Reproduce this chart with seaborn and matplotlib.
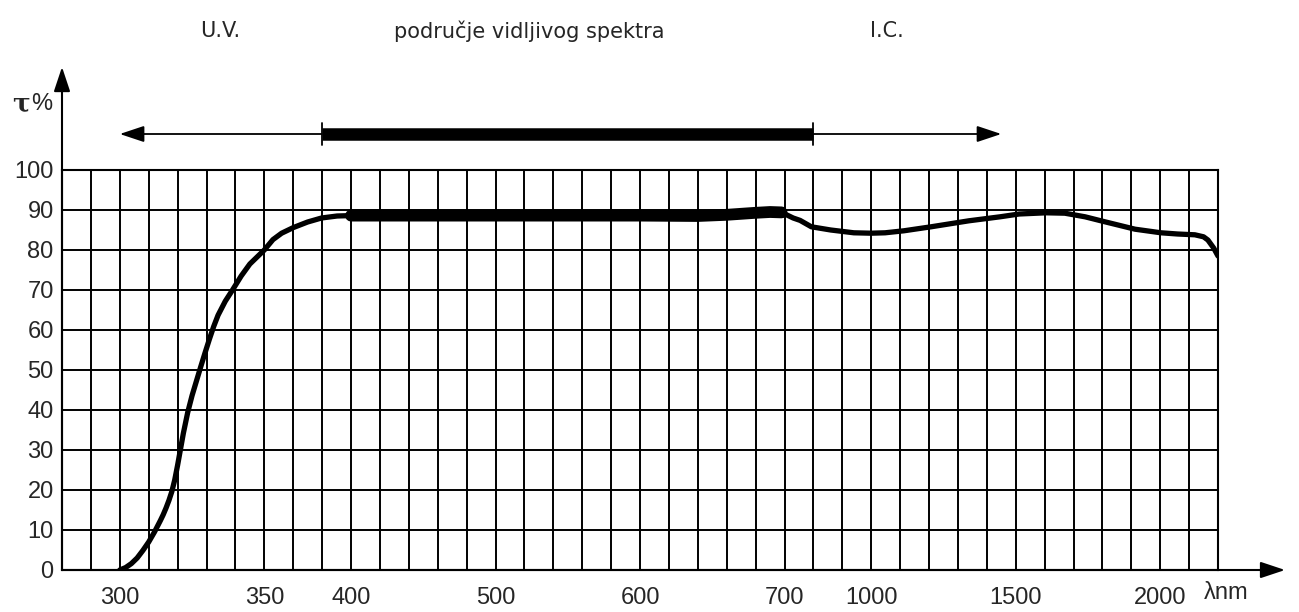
import numpy as np
import matplotlib
matplotlib.use("Agg")
import matplotlib.pyplot as plt
import seaborn as sns

# transmission curve (nm, %)
wavelength = [300, 302, 304, 306, 308, 310, 312, 314, 315, 316, 317, 318, 319,
              320, 321, 322, 323.5, 325, 326.5, 328, 329.5, 331, 332.5, 334,
              336.5, 339, 342, 345, 350, 355, 360, 366.7, 375, 383, 392, 400,
              450, 500, 550, 600, 640, 660, 680, 690, 698, 710, 730, 754, 793,
              860, 940, 1000, 1048, 1113, 1207, 1338, 1446, 1512, 1605, 1670,
              1740, 1806, 1913, 2003, 2060, 2120, 2150, 2165, 2185, 2200]
transmission = [0, 0.6, 1.6, 3.0, 4.9, 7.0, 9.5, 12.3, 13.8, 15.5, 17.4, 19.6, 22.5,
                26.2, 30.2, 34.2, 39.4, 43.6, 47.2, 50.8, 54.3, 57.7, 60.9, 63.7,
                67.2, 70, 73.5, 76.5, 80, 82.6, 84.2, 85.6, 87, 88, 88.5, 88.6,
                88.6, 88.6, 88.6, 88.6, 88.5, 88.8, 89.3, 89.5, 89.4, 88.7, 88.0, 87.4, 85.8,
                85.0, 84.3, 84.2, 84.3, 84.8, 85.8, 87.3, 88.3, 89.0, 89.3, 89.2,
                88.3, 87.1, 85.2, 84.3, 84.0, 83.8, 83.3, 82.5, 80.5, 78.5]
thick_from, thick_to = 395, 705

x_ticks = [300, 350, 400, 500, 600, 700, 1000, 1500, 2000]
y_ticks = list(range(0, 101, 10))

# the wavelength axis is piecewise linear: nm -> grid column
scale_nm = [280, 300, 350, 400, 500, 600, 700, 1000, 1500, 2000, 2200]
scale_col = [0, 2, 7, 10, 15, 20, 25, 28, 33, 38, 40]

uv_end, vis_start, vis_end, ir_end = 300, 383, 800, 1450
band_labels = ["U.V.", "područje vidljivog spektra", "I.C."]


def fwd(x):
    return np.interp(x, scale_nm, scale_col)


def inv(c):
    return np.interp(c, scale_col, scale_nm)


sns.set_style("white")
plt.rcParams['font.family'] = ['Liberation Sans', 'DejaVu Sans']

W, H = 1299, 612
fig = plt.figure(figsize=(W / 100, H / 100), dpi=100)
ax = fig.add_axes([62 / W, 1 - 570 / H, 1156 / W, 400 / H])
ax.set_xscale('function', functions=(fwd, inv))
ax.set_xlim(280, 2200)
ax.set_ylim(0, 100)

wl = np.array(wavelength)
tr = np.array(transmission)
sns.lineplot(x=wl, y=tr, color='black', lw=3.8, ax=ax, zorder=3,
             solid_capstyle='round', solid_joinstyle='round')
m = (wl >= thick_from) & (wl <= thick_to)
sns.lineplot(x=wl[m], y=tr[m], color='black', lw=8.5, ax=ax, zorder=3,
             solid_capstyle='round', solid_joinstyle='round')

# grid
ax.set_xticks(x_ticks)
ax.set_xticklabels([str(t) for t in x_ticks])
ax.set_xticks(inv(np.arange(41)), minor=True)
ax.set_yticks(y_ticks)
ax.set_axisbelow(True)
ax.grid(which='both', axis='x', color='black', lw=1.4)
ax.grid(which='major', axis='y', color='black', lw=1.4)
ax.tick_params(which='both', length=0, labelsize=17)
ax.tick_params(axis='x', pad=12)
ax.tick_params(axis='y', pad=6)
for s in ax.spines.values():
    s.set_color('black')
    s.set_linewidth(1.5)

# axis arrows
head = '-|>,head_length=0.75,head_width=0.25'
ax.annotate('', xy=(0, 1.2575), xytext=(0, 0), xycoords='axes fraction',
            arrowprops=dict(arrowstyle=head, lw=1.5, color='black',
                            mutation_scale=20, shrinkA=0, shrinkB=0))
ax.annotate('', xy=(1.058, 0), xytext=(0, 0), xycoords='axes fraction',
            arrowprops=dict(arrowstyle=head, lw=1.5, color='black',
                            mutation_scale=20, shrinkA=0, shrinkB=0))

# spectrum arrows above the grid
tr_x = ax.get_xaxis_transform()
ya = (570 - 134) / 400
ax.annotate('', xy=(uv_end, ya), xytext=(vis_start, ya), xycoords=tr_x,
            arrowprops=dict(arrowstyle=head, lw=1.3, color='black',
                            mutation_scale=20, shrinkA=0, shrinkB=0))
ax.annotate('', xy=(ir_end, ya), xytext=(vis_end, ya), xycoords=tr_x,
            arrowprops=dict(arrowstyle=head, lw=1.3, color='black',
                            mutation_scale=20, shrinkA=0, shrinkB=0))
ax.plot([vis_start, vis_end], [ya, ya], transform=tr_x, color='black',
        lw=9, solid_capstyle='butt', clip_on=False)
for xv in (vis_start, vis_end):
    ax.plot([xv, xv], [ya - 0.028, ya + 0.028], transform=tr_x, color='black',
            lw=1.3, clip_on=False)

# labels
for lab, xc in zip(band_labels, [220, 529, 887]):
    fig.text(xc / W, 1 - 31 / H, lab, ha='center', va='center',
             fontsize=15, family='DejaVu Sans')
fig.text(21 / W, 1 - 104 / H, 'τ', ha='center', va='center', fontsize=19,
         fontweight='bold', family='DejaVu Serif')
fig.text(42 / W, 1 - 104 / H, '%', ha='center', va='center', fontsize=17)
ax.text(1.007, -12 / 400, 'λnm', transform=ax.transAxes, ha='center', va='top',
        fontsize=17)

fig.savefig('out.png', dpi=100)
